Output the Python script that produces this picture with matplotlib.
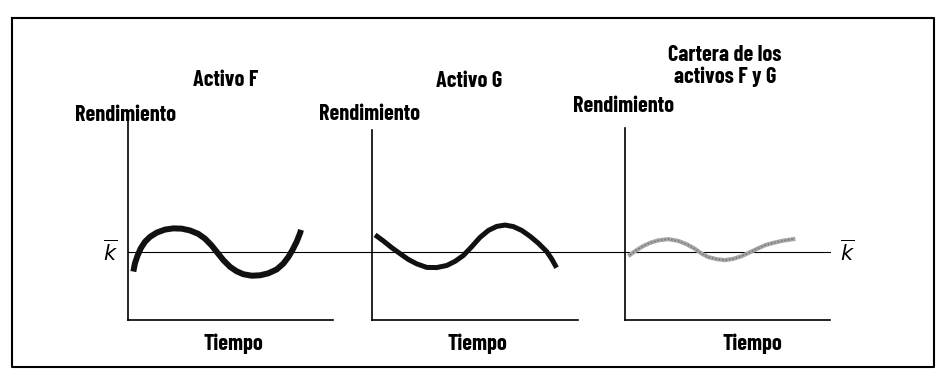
import matplotlib
matplotlib.use("Agg")
import matplotlib.pyplot as plt
from matplotlib.transforms import blended_transform_factory

# --- Data: return over time for each asset (schematic curves) ---
K_BAR = 4.95  # expected return level

time_f = [0.26, 0.34, 0.46, 0.62, 0.83, 1.07, 1.40, 1.80, 2.21, 2.62,
          3.02, 3.43, 3.76, 4.08, 4.36, 4.65, 4.98, 5.30, 5.62, 6.03,
          6.44, 6.84, 7.25, 7.58, 7.82, 8.03, 8.23, 8.39, 8.44]
ret_f = [3.51, 4.11, 4.64, 5.19, 5.67, 6.02, 6.33, 6.55, 6.64, 6.62,
         6.49, 6.24, 5.89, 5.40, 4.88, 4.34, 3.85, 3.53, 3.32, 3.21,
         3.24, 3.38, 3.66, 4.09, 4.56, 5.09, 5.68, 6.28, 6.53]

time_g = [0.15, 0.55, 0.96, 1.36, 1.76, 2.17, 2.66, 3.14, 3.63, 4.03,
          4.43, 4.84, 5.24, 5.65, 6.05, 6.46, 6.86, 7.27, 7.67, 8.07,
          8.48, 8.72, 8.96]
ret_g = [6.17, 5.73, 5.24, 4.81, 4.39, 4.07, 3.81, 3.80, 3.95, 4.25,
         4.67, 5.31, 5.98, 6.49, 6.78, 6.88, 6.77, 6.49, 6.07, 5.57,
         4.96, 4.43, 3.79]

time_fg = [0.24, 0.57, 0.89, 1.22, 1.62, 2.11, 2.60, 3.01, 3.41, 3.74,
           4.06, 4.47, 4.88, 5.28, 5.69, 6.10, 6.42, 6.83, 7.24, 7.72,
           8.21]
ret_fg = [4.72, 5.07, 5.36, 5.59, 5.77, 5.86, 5.73, 5.49, 5.16, 4.81,
          4.56, 4.41, 4.34, 4.43, 4.63, 4.91, 5.14, 5.42, 5.59, 5.75,
          5.86]

titles = ["Activo F", "Activo G", "Cartera de los\nactivos F y G"]
y_label = "Rendimiento"
x_label = "Tiempo"

plt.rcParams["font.family"] = ["Barlow Condensed", "DejaVu Sans"]
plt.rcParams["mathtext.fontset"] = "dejavusans"

W, H = 940, 390
fig = plt.figure(figsize=(W / 100, H / 100), dpi=100)

# background layer in pixel units (frame, shared k line, labels)
bg = fig.add_axes([0, 0, 1, 1])
bg.set_xlim(0, W)
bg.set_ylim(H, 0)
bg.axis("off")
bg.plot([12, 934, 934, 12, 12], [18, 18, 367, 367, 18], color="black", lw=1.5)

# panel boxes: left, right, top (px); all share the bottom at 320 px
panels = [(128, 333, 120), (372, 578, 130), (625, 830, 128)]
PX_PER_UNIT = 13.8
BOTTOM = 320

axes = []
for left, right, top in panels:
    ax = fig.add_axes([left / W, (H - BOTTOM) / H, (right - left) / W, (BOTTOM - top) / H])
    ax.set_xlim(0, 10)
    ax.set_ylim(0, (BOTTOM - top) / PX_PER_UNIT)
    ax.patch.set_visible(False)
    for side in ["top", "right"]:
        ax.spines[side].set_visible(False)
    for side in ["left", "bottom"]:
        ax.spines[side].set_linewidth(1.2)
    ax.set_xticks([])
    ax.set_yticks([])
    axes.append(ax)

# k-bar line runs across all three panels
trans = blended_transform_factory(bg.transData, axes[0].transData)
bg.plot([128, 830], [K_BAR, K_BAR], color="black", lw=0.8, transform=trans)
bg.text(110, K_BAR, r"$\overline{k}$", fontsize=15, ha="center", va="center",
        transform=trans)
bg.text(847, K_BAR, r"$\overline{k}$", fontsize=15, ha="center", va="center",
        transform=trans)

# curves
axes[0].plot(time_f, ret_f, color="#111111", lw=4.3, solid_capstyle="butt",
             solid_joinstyle="round", clip_on=False)
axes[1].plot(time_g, ret_g, color="#111111", lw=3.6, solid_capstyle="butt",
             solid_joinstyle="round", clip_on=False)
axes[2].plot(time_fg, ret_fg, color="#a6a6a6", lw=3.0, solid_joinstyle="round",
             clip_on=False)
axes[2].plot(time_fg, ret_fg, color="#6e6e6e", lw=1.0, ls=(0, (1, 1.5)),
             clip_on=False)

# titles and axis labels (pixel positions, baseline)
txt = dict(fontsize=16, fontweight="bold", ha="center", va="baseline")
bg.text(226, 86, titles[0], **txt)
bg.text(469, 87, titles[1], **txt)
bg.text(725, 61, titles[2].split("\n")[0], **txt)
bg.text(725, 83, titles[2].split("\n")[1], **txt)

bg.text(126, 121, y_label, **txt)
bg.text(370, 120, y_label, **txt)
bg.text(623, 112, y_label, **txt)

bg.text(233, 350, x_label, **txt)
bg.text(477, 350, x_label, **txt)
bg.text(752, 350, x_label, **txt)

plt.savefig("out.png", dpi=100)
